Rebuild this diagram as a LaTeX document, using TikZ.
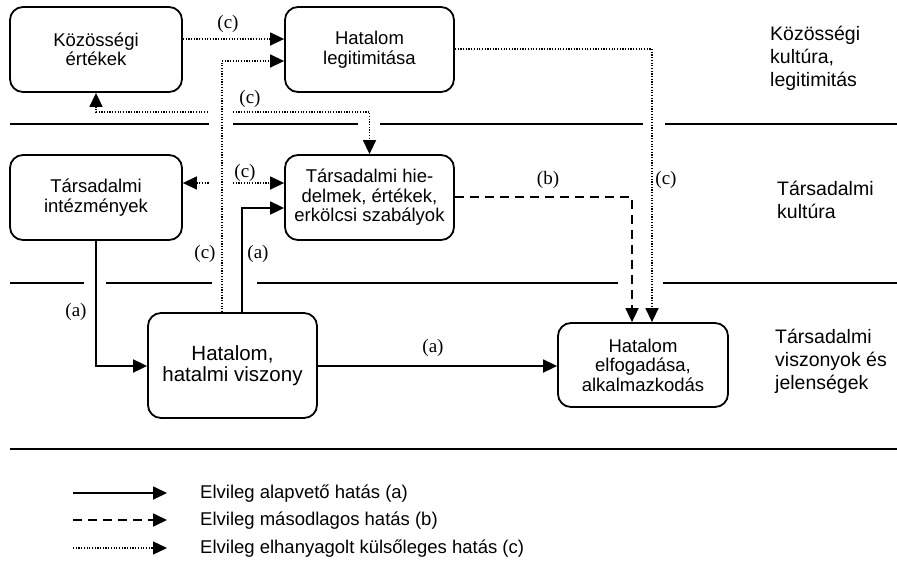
\documentclass[tikz,border=0pt]{standalone}
\usepackage{fontspec}
\setmainfont{Liberation Sans}
\newfontfamily\labfont{Liberation Serif}
\usetikzlibrary{arrows.meta}
\begin{document}
\begin{tikzpicture}[x=1pt,y=-1pt,
  >={Triangle[length=14pt,width=13pt]},
  box/.style={draw, line width=1.8pt, rounded corners=13pt, align=center, inner sep=2pt,
    font=\fontsize{18.5}{19.5}\selectfont},
  bigbox/.style={box, font=\fontsize{20.5}{21.5}\selectfont},
  solidc/.style={line width=1.8pt, ->},
  dashc/.style={line width=1.8pt, dash pattern=on 9pt off 6pt, ->},
  dotc/.style={line width=1.4pt, dash pattern=on 1.2pt off 1.5pt, ->},
  sep/.style={line width=1.8pt},
  lab/.style={inner sep=0pt, font=\labfont\fontsize{19}{19}\selectfont},
  side/.style={anchor=west, align=left, inner sep=0pt, font=\fontsize{19.5}{23}\selectfont},
  legtext/.style={anchor=west, inner sep=0pt, font=\fontsize{18.5}{20}\selectfont}
]
\useasboundingbox (0,0) rectangle (897,571);

% boxes
\node[box, minimum width=172pt, minimum height=85pt] (kozert) at (96,49.5) {Közösségi\\értékek};
\node[box, minimum width=169pt, minimum height=85pt] (legit) at (369.5,49.5) {Hatalom\\legitimitása};
\node[box, minimum width=172pt, minimum height=85pt] (intez) at (96,197.5) {Társadalmi\\intézmények};
\node[box, minimum width=169pt, minimum height=85pt] (hied) at (369.5,197.5) {Társadalmi hie-\\delmek, értékek,\\erkölcsi szabályok};
\node[bigbox, minimum width=169pt, minimum height=105pt] (hatalom) at (232.5,365.5) {Hatalom,\\hatalmi viszony};
\node[box, minimum width=170pt, minimum height=84pt] (elfog) at (643,365) {Hatalom\\elfogadása,\\alkalmazkodás};

% side labels
\node[side] (s1) at (770,58) {Közösségi\\kultúra,\\legitimitás};
\node[side] (s2) at (777,200) {Társadalmi\\kultúra};
\node[side] (s3) at (775,361) {Társadalmi\\viszonyok és\\jelenségek};

% separator lines
\draw[sep] (10,124) -- (209,124) (233,124) -- (358,124) (380,124) -- (643,124) (665,124) -- (897,124);
\draw[sep] (10,283) -- (84,283) (106,283) -- (212,283) (257,283) -- (618,283) (663,283) -- (897,283);
\draw[sep] (10,449) -- (897,449);

% connectors
\draw[dotc] (kozert.east |- 0,39) -- (legit.west |- 0,39);
\draw[dotc] (hatalom.north -| 222,0) -- (222,61) -- (legit.west |- 0,61);
\draw[dotc,<-] (kozert.south) -- (kozert.south |- 0,112) -- (209,112);
\draw[dotc] (233,112) -- (hied.north |- 0,112) -- (hied.north);
\draw[dotc,<-] (intez.east |- 0,183) -- (210,183);
\draw[dotc] (233,183) -- (hied.west |- 0,183);
\draw[solidc] (hatalom.north -| 242,0) -- (242,208) -- (hied.west |- 0,208);
\draw[solidc] (intez.south) -- (intez.south |- 0,366) -- (hatalom.west |- 0,366);
\draw[solidc] (hatalom.east |- 0,366) -- (elfog.west |- 0,366);
\draw[dashc] (hied.east |- 0,197) -- (632,197) -- (elfog.north -| 632,0);
\draw[dotc] (legit.east |- 0,49) -- (652,49) -- (elfog.north -| 652,0);

% connector labels
\node[lab] (l1) at (228,24) {(c)};
\node[lab] (l2) at (250,99) {(c)};
\node[lab] (l3) at (245,173) {(c)};
\node[lab] (l4) at (205,254) {(c)};
\node[lab] (l5) at (258,254) {(a)};
\node[lab] (l6) at (76,312) {(a)};
\node[lab] (l7) at (433,348) {(a)};
\node[lab] (l8) at (548,180) {(b)};
\node[lab] (l9) at (666,180) {(c)};

% legend
\coordinate (la0) at (73,493); \coordinate (la1) at (167,493);
\coordinate (lb0) at (73,520); \coordinate (lb1) at (167,520);
\coordinate (lc0) at (73,548); \coordinate (lc1) at (167,548);
\draw[solidc] (la0) -- (la1);
\draw[dashc] (lb0) -- (lb1);
\draw[dotc] (lc0) -- (lc1);
\node[legtext] (ta) at (200,494) {Elvileg alapvető hatás (a)};
\node[legtext] (tb) at (200,521) {Elvileg másodlagos hatás (b)};
\node[legtext] (tc) at (200,549) {Elvileg elhanyagolt külsőleges hatás (c)};
\end{tikzpicture}
\end{document}
